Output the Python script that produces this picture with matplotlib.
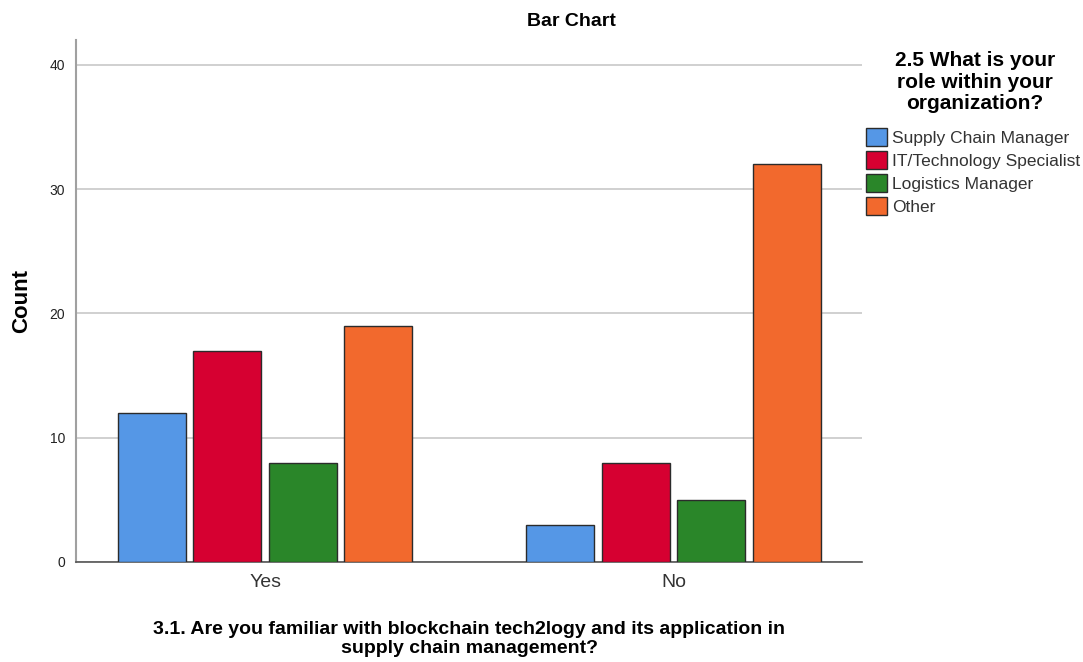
import matplotlib
matplotlib.use("Agg")
import matplotlib.pyplot as plt
import numpy as np
from matplotlib.patches import Patch

categories = ["Yes", "No"]
roles = ["Supply Chain Manager", "IT/Technology Specialist", "Logistics Manager", "Other"]
supply_chain = [12, 3]
it_specialist = [17, 8]
logistics = [8, 5]
other = [19, 32]
series = [supply_chain, it_specialist, logistics, other]
colors = ["#5597E6", "#D60031", "#2A8629", "#F2692D"]

plt.rcParams['font.family'] = ['Liberation Sans', 'DejaVu Sans']

fig = plt.figure(figsize=(10.83, 6.62), dpi=100)
ax = fig.add_axes([0.0702, 0.1511, 0.7258, 0.7885])

x = np.arange(len(categories))
step = 0.1848
width = 0.1665
for i, (vals, c) in enumerate(zip(series, colors)):
    ax.bar(x + (i - 1.5) * step, vals, width=width, color=c,
           edgecolor="#2b2b2b", linewidth=1.0, zorder=3)

ax.set_xlim(-0.4627, 1.4615)
ax.set_ylim(0, 42)
ax.set_yticks([0, 10, 20, 30, 40])
ax.yaxis.grid(True, color="#c8c8c8", linewidth=1.2, zorder=0)
ax.set_axisbelow(True)
ax.tick_params(axis="y", length=0, labelsize=10, labelcolor="#222222", pad=8)
ax.set_xticks(x)
ax.set_xticklabels(categories, fontsize=14, color="#333333")
ax.tick_params(axis="x", length=0, pad=9)
for s in ["top", "right"]:
    ax.spines[s].set_visible(False)
ax.spines["left"].set_color("#a0a0a0")
ax.spines["left"].set_linewidth(1.5)
ax.spines["bottom"].set_color("#555555")
ax.spines["bottom"].set_linewidth(1.2)

ax.set_ylabel("Count", fontsize=16, fontweight="bold", labelpad=12)
fig.text(0.5275, 0.967, "Bar Chart", ha="center", va="center", fontsize=14, fontweight="bold")
fig.text(0.4335, 0.0345, "3.1. Are you familiar with blockchain tech2logy and its application in\nsupply chain management?",
         ha="center", va="center", fontsize=14, fontweight="bold", linespacing=1.15)

handles = [Patch(facecolor=c, edgecolor="#2b2b2b", linewidth=1.0) for c in colors]
leg = fig.legend(handles, roles, loc="upper left", bbox_to_anchor=(0.8, 0.806),
                 frameon=False, fontsize=12.5, handlelength=1.2, handleheight=1.2,
                 handletextpad=0.3, labelspacing=0.3, borderaxespad=0, borderpad=0)
for t in leg.get_texts():
    t.set_color("#333333")
fig.text(0.9, 0.876, "2.5 What is your\nrole within your\norganization?", ha="center", va="center",
         fontsize=15, fontweight="bold", linespacing=1.15)

fig.savefig("out.png", dpi=100)
